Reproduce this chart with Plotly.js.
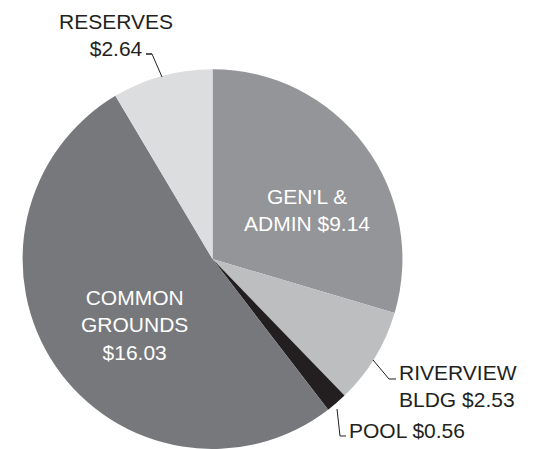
<!DOCTYPE html>
<html>
<head>
<meta charset="utf-8">
<script src="https://cdn.plot.ly/plotly-3.0.1.min.js"></script>
<style>html,body{margin:0;padding:0;background:#fff;overflow:hidden}#chart{width:540px;height:449px}</style>
</head>
<body>
<div id="chart"></div>
<script>
// Data
const categories = ["GEN'L &<br>ADMIN", "RIVERVIEW<br>BLDG", "POOL", "COMMON<br>GROUNDS", "RESERVES"];
const values = [9.14, 2.53, 0.56, 16.03, 2.64];
const sliceColors = ["#939598", "#bcbec0", "#231f20", "#77787b", "#dcdddf"];

const W = 540, H = 449;
const px = (x) => x / W;
const py = (y) => 1 - y / H;
const fmt = (v) => "$" + v.toFixed(2);

// label layout (pixel positions in the picture)
const labelSpec = [
  {x: 307, y: 210, anchor: "center", sep: " ", color: "#ffffff"},
  {x: 397.5, y: 386, anchor: "left", sep: " ", color: "#231f20"},
  {x: 347.5, y: 430, anchor: "left", sep: " ", color: "#231f20"},
  {x: 134, y: 325, anchor: "center", sep: "<br>", color: "#ffffff"},
  {x: 116, y: 35, anchor: "center", sep: "<br>", color: "#231f20"}
];

const annotations = categories.map((c, i) => {
  const s = labelSpec[i];
  return {
    text: c + s.sep + fmt(values[i]),
    x: px(s.x), y: py(s.y), xref: "paper", yref: "paper",
    xanchor: s.anchor, yanchor: "middle", align: s.anchor === "left" ? "left" : "center",
    showarrow: false, borderpad: 0,
    font: {family: "Liberation Sans, Arial, sans-serif", size: 21, color: s.color}
  };
});

// leader lines
const leaders = [
  [[152, 54], [146, 54], [146, 54], [152, 54], [162, 77]],
  [[396, 379], [389, 379], [373, 360]],
  [[346, 436], [340, 436], [337, 409]]
];
const shapes = leaders.map(pts => ({
  type: "path", xref: "paper", yref: "paper",
  path: pts.map((p, i) => (i ? "L" : "M") + px(p[0]) + "," + py(p[1])).join(" "),
  line: {color: "#231f20", width: 1}
}));

const trace = {
  type: "pie",
  labels: categories,
  values: values,
  sort: false,
  direction: "clockwise",
  rotation: 0,
  textinfo: "none",
  hoverinfo: "label+value",
  marker: {colors: sliceColors, line: {width: 0}},
  domain: {x: [px(22.5), px(402.5)], y: [0, 0.846]},
  showlegend: false
};

Plotly.newPlot("chart", [trace], {
  width: W, height: H,
  margin: {l: 0, r: 0, t: 0, b: 0},
  paper_bgcolor: "#ffffff",
  showlegend: false,
  annotations: annotations,
  shapes: shapes
}, {displayModeBar: false, staticPlot: true});
</script>
</body>
</html>
